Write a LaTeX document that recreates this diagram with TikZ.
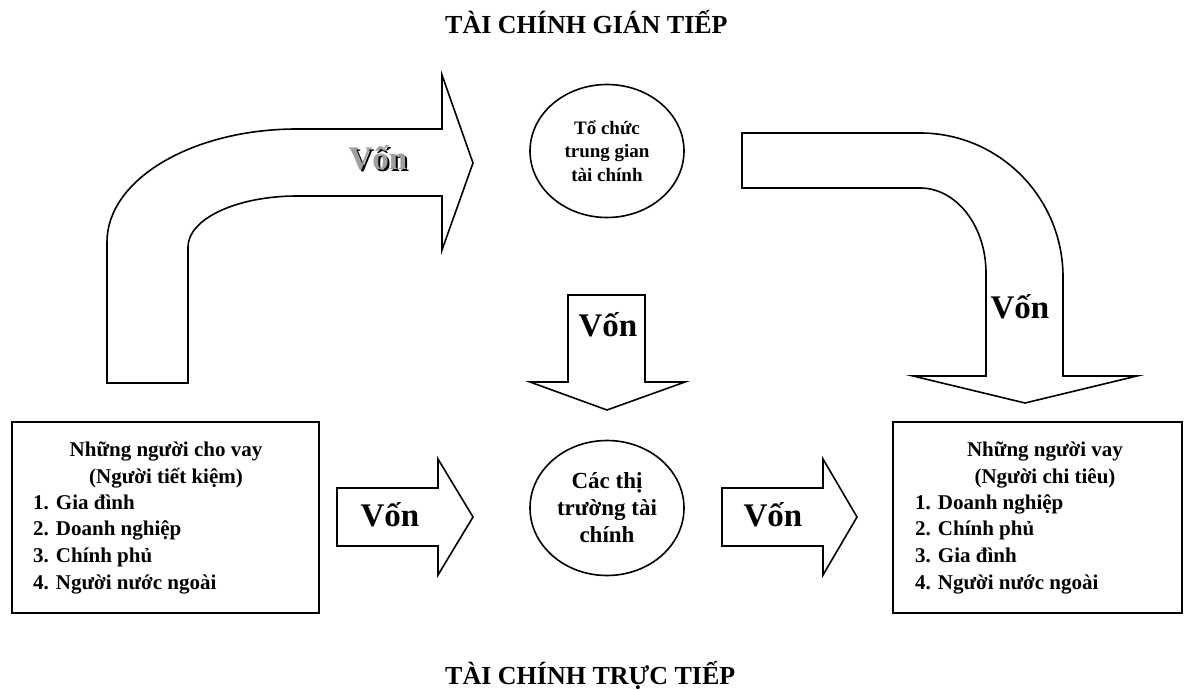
\documentclass[tikz,border=0pt]{standalone}
\usepackage{fontspec}
\setmainfont{Liberation Serif}
\usetikzlibrary{shapes.geometric}
\begin{document}
\begin{tikzpicture}[x=1pt,y=-1pt, line join=miter,
  blockarrow/.style={draw=black, fill=white, line width=1.6pt},
  von/.style={font=\fontsize{33}{36}\selectfont\bfseries, inner sep=0pt},
  heading/.style={font=\fontsize{26}{30}\selectfont\bfseries, inner sep=0pt, anchor=base west},
  boxtxt/.style={font=\fontsize{21}{24}\selectfont\bfseries, inner sep=0pt},
  oval/.style={draw, ellipse, line width=1.6pt, minimum width=154pt, minimum height=133pt, inner sep=0pt, align=center},
  panel/.style={draw, rectangle, line width=1.6pt, inner sep=0pt}]
\useasboundingbox (0,0) rectangle (1192,690);

% titles
\node[heading] (t1) at (445,34) {TÀI CHÍNH GIÁN TIẾP};
\node[heading] (t2) at (445,684) {TÀI CHÍNH TRỰC TIẾP};

% left bent arrow (indirect)
\draw[blockarrow] (107,383) -- (107,242)
  arc[start angle=180, end angle=270, x radius=190, y radius=113]
  -- (442,129) -- (442,75) -- (473,163) -- (442,250) -- (442,196) -- (297,196)
  arc[start angle=270, end angle=180, x radius=109, y radius=51]
  -- (188,383) -- cycle;
\node[von, text=black] at (380,159.5) {Vốn};
\node[von, text=gray!75] (v1) at (378,158) {Vốn};

% right bent arrow
\draw[blockarrow] (742,133) -- (920,133)
  arc[start angle=270, end angle=360, x radius=143, y radius=144]
  -- (1063,376) -- (1137,376) -- (1025,403) -- (913,376) -- (986,376) -- (986,273)
  arc[start angle=360, end angle=270, x radius=66, y radius=85]
  -- (742,188) -- cycle;
\node[von] (v2) at (1020,307) {Vốn};

% middle down arrow
\draw[blockarrow] (568,295) -- (645,295) -- (645,382) -- (685,382) -- (607,410)
  -- (530,382) -- (568,382) -- cycle;
\node[von] (v3) at (608,325) {Vốn};

% bottom arrows
\draw[blockarrow] (337,488) -- (438,488) -- (438,459) -- (473,517) -- (438,575)
  -- (438,546) -- (337,546) -- cycle;
\node[von] (v4) at (390,515) {Vốn};
\draw[blockarrow] (722,488) -- (823,488) -- (823,459) -- (857,517) -- (823,575)
  -- (823,546) -- (722,546) -- cycle;
\node[von] (v5) at (773,515) {Vốn};

% ovals
\node[oval, font=\fontsize{19}{23.5}\selectfont\bfseries] (fi) at (607,151)
  {Tổ chức\\trung gian\\tài chính};
\node[oval, minimum height=135pt, font=\fontsize{23}{27}\selectfont\bfseries] (fm) at (607,508)
  {Các thị\\trường tài\\chính};

% boxes
\node[panel, minimum width=307pt, minimum height=191pt] (lbox) at (165.5,517.5) {};
\node[panel, minimum width=289pt, minimum height=191pt] (rbox) at (1037.5,517.5) {};

\node[boxtxt, anchor=base] (l1) at (166,456) {Những người cho vay};
\node[boxtxt, anchor=base] (l2) at (166,483) {(Người tiết kiệm)};
\node[boxtxt, anchor=base west] (l3) at (33,509) {1. Gia đình};
\node[boxtxt, anchor=base west] (l4) at (33,535) {2. Doanh nghiệp};
\node[boxtxt, anchor=base west] (l5) at (33,562) {3. Chính phủ};
\node[boxtxt, anchor=base west] (l6) at (33,589) {4. Người nước ngoài};

\node[boxtxt, anchor=base] (r1) at (1045,456) {Những người vay};
\node[boxtxt, anchor=base] (r2) at (1045,483) {(Người chi tiêu)};
\node[boxtxt, anchor=base west] (r3) at (915,509) {1. Doanh nghiệp};
\node[boxtxt, anchor=base west] (r4) at (915,535) {2. Chính phủ};
\node[boxtxt, anchor=base west] (r5) at (915,562) {3. Gia đình};
\node[boxtxt, anchor=base west] (r6) at (915,589) {4. Người nước ngoài};
\end{tikzpicture}
\end{document}
